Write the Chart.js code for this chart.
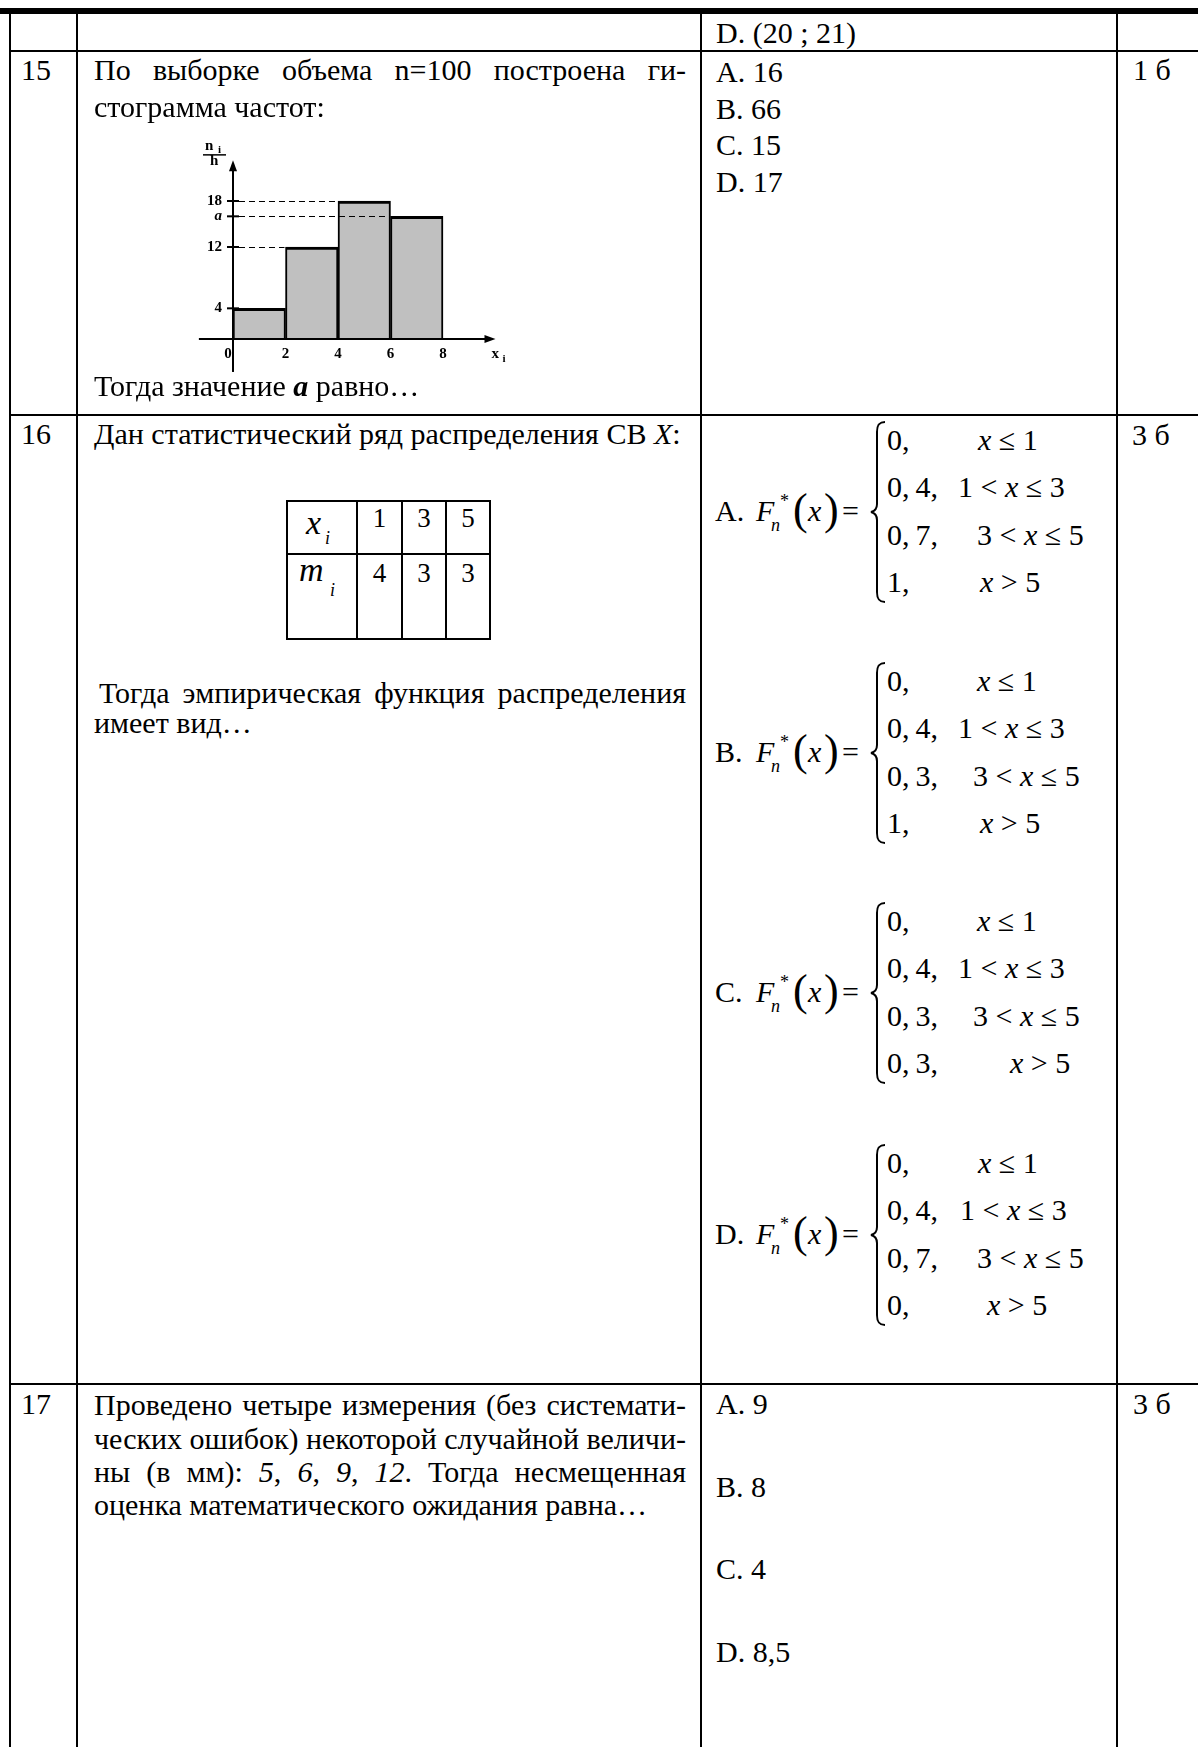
<!DOCTYPE html>
<html><head><meta charset="utf-8">
<script src="https://cdn.jsdelivr.net/npm/chart.js@4.4.1/dist/chart.umd.min.js"></script>
<style>
html,body{margin:0;padding:0;background:#fff;}
body{width:1198px;height:1747px;position:relative;overflow:hidden;font-family:"Liberation Serif","Times New Roman",serif;color:#000;}
.t{position:absolute;white-space:nowrap;}
.ln{position:absolute;background:#000;}
</style></head><body>
<canvas id="hist" width="380" height="290" style="position:absolute;left:160px;top:120px;width:380px;height:290px;"></canvas>
<script>
// ---- histogram data (question 15) ----
const binEdges = [0, 2, 4, 6, 8];          // x_i interval bounds
const xTickLabels = ['0', '2', '4', '6', '8'];
const binCenters = [1, 3, 5, 7];
const freqDensity = [4, 12, 18, 16];       // n_i / h  (a = 16)
const yTickValues = [4, 12, 16, 18];
const yTickLabels = ['4', '12', 'a', '18'];

// ---- document helpers ----
const body = document.body;
function T(x, base, size, html) {
  const d = document.createElement('div');
  d.className = 't';
  d.style.left = x + 'px';
  d.style.top = (base - 0.7875 * size) + 'px';
  d.style.fontSize = size + 'px';
  d.style.lineHeight = (0.9 * size) + 'px';
  d.innerHTML = html;
  body.appendChild(d);
  return d;
}
function J(x, base, size, html, width) { // justified single line
  const d = T(x, base, size, html);
  const w = d.getBoundingClientRect().width;
  const n = (d.textContent.match(/ /g) || []).length;
  if (w <= width) {
    if (n) d.style.wordSpacing = ((width - w) / n) + 'px';
  } else {
    d.style.transformOrigin = '0 0';
    d.style.transform = 'scaleX(' + (width / w) + ')';
  }
  return d;
}
function C(cx, base, size, html) { // centered
  const d = T(cx - 30, base, size, html);
  d.style.width = '60px'; d.style.textAlign = 'center';
}
function L(x, y, w, h) {
  const d = document.createElement('div');
  d.className = 'ln';
  d.style.left = x + 'px'; d.style.top = y + 'px'; d.style.width = w + 'px'; d.style.height = h + 'px';
  body.appendChild(d);
}
function brace(x, y, h) {
  const ns = 'http://www.w3.org/2000/svg';
  const s = document.createElementNS(ns, 'svg');
  s.setAttribute('width', 20); s.setAttribute('height', h + 4);
  s.style.cssText = 'position:absolute;left:' + x + 'px;top:' + (y - 2) + 'px;overflow:visible';
  const m = h / 2;
  const p = document.createElementNS(ns, 'path');
  p.setAttribute('d', 'M16,2 C10,2 8,5 8,12 L8,' + (m - 6) + ' C8,' + (m - 1) + ' 6,' + (m + 1) + ' 2,' + (m + 2) +
    ' C6,' + (m + 3) + ' 8,' + (m + 5) + ' 8,' + (m + 10) + ' L8,' + (h - 8) + ' C8,' + (h - 1) + ' 10,' + (h + 2) + ' 16,' + (h + 2));
  p.setAttribute('fill', 'none'); p.setAttribute('stroke', '#000'); p.setAttribute('stroke-width', '2');
  s.appendChild(p); body.appendChild(s);
}

// ---- table lines ----
L(0, 8, 1198, 6);
L(9, 14, 2, 1733); L(76, 14, 2, 1733); L(700, 14, 2, 1733); L(1116, 14, 2, 1733);
L(9, 50, 1189, 2); L(9, 414, 1189, 2); L(9, 1383, 1189, 2);

// ---- previous row ----
T(716, 43, 30, 'D. (20 ; 21)');

// ---- row 15 ----
T(21, 80, 30, '15');
J(94, 80, 30, 'По выборке объема n=100 построена ги-', 592);
T(94, 117, 30, 'стограмма частот:');
T(94, 396, 30, 'Тогда значение <b><i>a</i></b> равно…');
T(716, 81.7, 30, 'A. 16');
T(716, 118.3, 30, 'B. 66');
T(716, 155, 30, 'C. 15');
T(716, 191.7, 30, 'D. 17');
T(1133, 80, 30, '1 б');

// ---- row 16 ----
T(21, 444, 30, '16');
T(94, 444, 30, 'Дан статистический ряд распределения СВ <i>X</i>:');
T(1132, 445, 30, '3 б');
// small table
L(286, 500, 205, 2); L(286, 553, 205, 2); L(286, 638, 205, 2);
L(286, 500, 2, 140); L(356, 500, 2, 140); L(401, 500, 2, 140); L(445, 500, 2, 140); L(489, 500, 2, 140);
T(306, 535, 34, '<i>x</i>');
T(325, 544, 18, '<i>i</i>');
T(299, 582, 34, '<i>m</i>');
T(330, 596, 18, '<i>i</i>');
C(379.5, 527, 27, '1'); C(424, 527, 27, '3'); C(468, 527, 27, '5');
C(379.5, 582, 27, '4'); C(424, 582, 27, '3'); C(468, 582, 27, '3');
J(99, 703, 30, 'Тогда эмпирическая функция распределения', 587);
T(94, 733, 30, 'имеет вид…');

function formula(label, top, c1, c2x, c2) {
  const lb = top + 99;
  T(715, lb, 30, label);
  T(756, lb, 30, '<i>F</i>');
  T(771, lb + 10, 18, '<i>n</i>');
  T(780, lb - 14, 18, '*');
  T(793, lb + 4, 44, '(');
  T(808, lb, 30, '<i>x</i>');
  T(824, lb + 4, 44, ')');
  T(842, lb, 30, '=');
  brace(869, top, 180);
  const rows = [28, 75, 123, 170];
  rows.forEach(function (r, i) { T(887, top + r, 30, c1[i]); T(c2x[i], top + r, 30, c2[i]); });
}
const conds = ['<i>x</i> ≤ 1', '1 &lt; <i>x</i> ≤ 3', '3 &lt; <i>x</i> ≤ 5', '<i>x</i> &gt; 5'];
formula('A.', 422, ['0,', '0,&#8201;4,', '0,&#8201;7,', '1,'], [978, 958, 977, 980], conds);
formula('B.', 663, ['0,', '0,&#8201;4,', '0,&#8201;3,', '1,'], [977, 958, 973, 980], conds);
formula('C.', 903, ['0,', '0,&#8201;4,', '0,&#8201;3,', '0,&#8201;3,'], [977, 958, 973, 1010], conds);
formula('D.', 1145, ['0,', '0,&#8201;4,', '0,&#8201;7,', '0,'], [978, 960, 977, 987], conds);

// ---- row 17 ----
T(21, 1414, 30, '17');
J(94, 1414.3, 30, 'Проведено четыре измерения (без системати-', 592);
J(94, 1448.3, 30, 'ческих ошибок) некоторой случайной величи-', 592);
J(94, 1481.7, 30, 'ны (в мм): <i>5</i>, <i>6</i>, <i>9</i>, <i>12</i>. Тогда несмещенная', 592);
T(94, 1515, 30, 'оценка математического ожидания равна…');
T(716, 1413.5, 30, 'A. 9');
T(716, 1496.7, 30, 'B. 8');
T(716, 1578.3, 30, 'C. 4');
T(716, 1661.7, 30, 'D. 8,5');
T(1133, 1414, 30, '3 б');

// ---- histogram with Chart.js ----
const FONT = '"Liberation Serif", "Times New Roman", serif';
const histDecor = {
  id: 'histDecor',
  afterDatasetsDraw(chart) {
    const ctx = chart.ctx, xs = chart.scales.x, ys = chart.scales.y;
    const X = v => xs.getPixelForValue(v), Y = v => ys.getPixelForValue(v);
    const x0 = X(0), y0 = Y(0);
    ctx.save();
    ctx.strokeStyle = '#000'; ctx.fillStyle = '#000';
    // dashed guides from axis to each bar's left edge
    ctx.lineWidth = 1; ctx.setLineDash([6, 4]);
    freqDensity.forEach((v, i) => {
      if (binEdges[i] <= 0) return;
      const py = Math.round(Y(v)) + 0.5;
      ctx.beginPath(); ctx.moveTo(x0 + 6, py); ctx.lineTo(X(binEdges[i]) - 1, py); ctx.stroke();
    });
    ctx.setLineDash([]);
    // axes
    ctx.lineWidth = 2;
    const xe = X(10), ye = Y(23.3);
    ctx.beginPath(); ctx.moveTo(X(-1.3), y0); ctx.lineTo(xe - 6, y0); ctx.stroke();
    ctx.beginPath(); ctx.moveTo(x0, Y(-4.3)); ctx.lineTo(x0, ye + 6); ctx.stroke();
    ctx.beginPath(); ctx.moveTo(xe, y0); ctx.lineTo(xe - 11, y0 - 4); ctx.lineTo(xe - 11, y0 + 4); ctx.closePath(); ctx.fill();
    ctx.beginPath(); ctx.moveTo(x0, ye); ctx.lineTo(x0 - 4, ye + 11); ctx.lineTo(x0 + 4, ye + 11); ctx.closePath(); ctx.fill();
    // y ticks and labels
    yTickValues.forEach((v, i) => {
      const py = Y(v);
      ctx.lineWidth = 2;
      ctx.beginPath(); ctx.moveTo(x0 - 6, py); ctx.lineTo(x0 + 6, py); ctx.stroke();
      ctx.font = (yTickLabels[i] === 'a' ? 'italic ' : '') + 'bold 15px ' + FONT;
      ctx.textAlign = 'right'; ctx.textBaseline = 'middle';
      ctx.fillText(yTickLabels[i], x0 - 11, py);
    });
    // x labels
    ctx.font = 'bold 15px ' + FONT; ctx.textAlign = 'center'; ctx.textBaseline = 'alphabetic';
    binEdges.forEach((v, i) => ctx.fillText(xTickLabels[i], X(v) - (v === 0 ? 5 : 0), y0 + 19));
    // axis titles
    ctx.textAlign = 'left';
    ctx.fillText('x', xe - 4, y0 + 19);
    ctx.font = 'bold 11px ' + FONT; ctx.fillText('i', xe + 7, y0 + 23);
    ctx.font = 'bold 15px ' + FONT; ctx.fillText('n', x0 - 28, ye - 10);
    ctx.font = 'bold 11px ' + FONT; ctx.fillText('i', x0 - 15, ye - 7);
    ctx.lineWidth = 1.5; ctx.beginPath(); ctx.moveTo(x0 - 30, ye - 5.5); ctx.lineTo(x0 - 7, ye - 5.5); ctx.stroke();
    ctx.font = 'bold 15px ' + FONT; ctx.fillText('h', x0 - 23, ye + 5);
    ctx.restore();
  }
};

new Chart(document.getElementById('hist'), {
  type: 'bar',
  data: {
    datasets: [{
      data: binCenters.map((x, i) => ({x: x, y: freqDensity[i]})),
      backgroundColor: '#c0c0c0',
      borderColor: '#000',
      borderWidth: {top: 3, left: 2, right: 2, bottom: 0},
      borderSkipped: false,
      barPercentage: 1,
      categoryPercentage: 1
    }]
  },
  options: {
    responsive: false,
    animation: false,
    events: [],
    layout: {padding: 0},
    plugins: {legend: {display: false}, tooltip: {enabled: false}},
    scales: {
      x: {type: 'linear', offset: false, min: -2.781, max: 11.695, display: false,
          afterBuildTicks: s => { s.ticks = binEdges.map(v => ({value: v})); }},
      y: {type: 'linear', min: -9.261, max: 28.565, display: false}
    }
  },
  plugins: [histDecor]
});
</script>
</body></html>
